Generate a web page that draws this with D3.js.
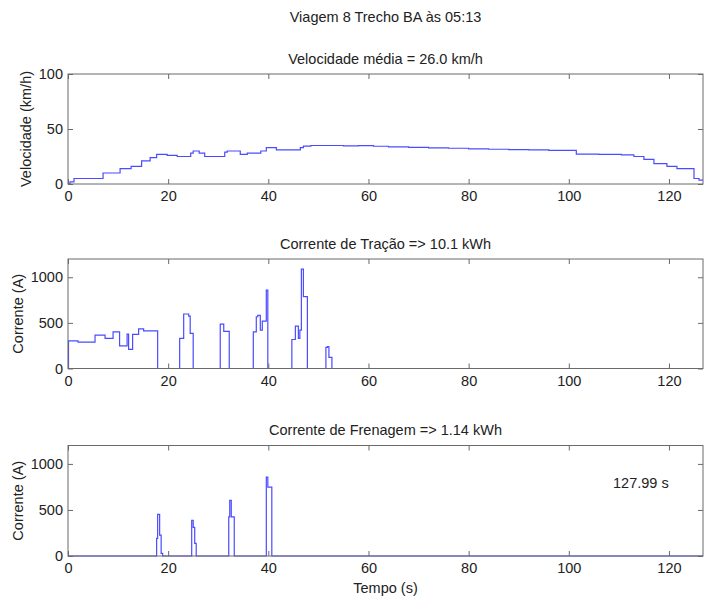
<!DOCTYPE html>
<html>
<head>
<meta charset="utf-8">
<script src="https://cdn.jsdelivr.net/npm/d3@7"></script>
<style>
  body { margin: 0; background: #fff; }
  text { font-family: "Liberation Sans", Arial, sans-serif; fill: #222; }
</style>
</head>
<body>
<div id="chart"></div>
<script>
// speed (km/h), step changes [time s, value]
var speedData = [
  [0,0],[0.4,2],[1.2,5],[7,10],[10.4,14],[12.6,16],[14.7,21],[16.4,24],[17.7,27],[19.8,26],
  [21.8,25],[24.5,28],[25,30],[26.2,28],[27.3,25],[31.3,29],[31.8,30],[34.4,27],[35.8,28],
  [38.5,30],[39.6,33],[41.6,31],[46.4,33],[47,34.5],[48.5,35],[55,34.7],[58,34.9],[61,34.3],
  [64,33.8],[68,33.3],[72,32.9],[76,32.5],[80,32],[84,31.6],[88,31.3],[92,31],[96,30.6],
  [101.5,27.2],[106,26.9],[110.5,26.4],[113,25],[115,22.4],[117,18.5],[119.6,16],[121.6,14],
  [125,5],[126,3.5],[126.8,3.5]
];

// traction current (A)
var tractionData = [
  [0,0],[0.1,303],[2,289],[5.4,366],[7.4,330],[9.0,402],[10.3,248],[11.8,377],[12.1,209],
  [12.9,373],[14.1,435],[15.1,413],[17.9,0],
  [22.3,330],[23.1,597],[24.1,575],[24.4,385],[25.0,0],
  [30.4,487],[31.1,407],[32.2,0],
  [37.0,402],[37.6,567],[37.9,582],[38.4,421],[38.8,520],[39.6,860],[39.9,0],
  [44.7,318],[45.4,465],[46.0,330],[46.3,421],[46.6,1088],[47.0,787],[47.8,0],
  [51.5,231],[51.8,240],[52.1,121],[52.7,0],[126.8,0]
];

// braking current (A)
var brakingData = [
  [0,0],[17.7,191],[17.9,453],[18.3,226],[18.6,29],[18.9,0],
  [24.7,388],[25.0,310],[25.3,137],[25.6,0],
  [32.1,424],[32.3,604],[32.6,424],[33.2,0],
  [39.6,856],[39.9,748],[40.7,0],[126.8,0]
];

var xTicks = [0, 20, 40, 60, 80, 100, 120];
var speedTicks = [0, 50, 100];
var currentTicks = [0, 500, 1000];

var mainTitle = "Viagem 8 Trecho BA às 05:13";
var panelTitles = ["Velocidade média = 26.0 km/h", "Corrente de Tração => 10.1 kWh", "Corrente de Frenagem => 1.14 kWh"];
var yLabels = ["Velocidade (km/h)", "Corrente (A)", "Corrente (A)"];

var width = 704, height = 596,
    left = 68, right = 703,
    fontSize = "14.5px",
    lineColor = "#4b4bff",
    axisColor = "#6a6a6a";

var svg = d3.select("#chart").append("svg")
    .attr("width", width)
    .attr("height", height);

var x = d3.scaleLinear().domain([0, 126.8]).range([left, right]);

var panels = [
  { top: 74, bottom: 184, ymax: 100, ticks: speedTicks, data: speedData, labelX: 26 },
  { top: 259, bottom: 368.5, ymax: 1200, ticks: currentTicks, data: tractionData, labelX: 18 },
  { top: 445.5, bottom: 556, ymax: 1200, ticks: currentTicks, data: brakingData, labelX: 18 }
];

svg.append("text")
    .attr("x", (left + right) / 2)
    .attr("y", 22)
    .attr("text-anchor", "middle")
    .style("font-size", fontSize)
    .text(mainTitle);

panels.forEach(function(p, i) {
  var y = d3.scaleLinear().domain([0, p.ymax]).range([p.bottom, p.top]);
  var g = svg.append("g");

  // data line
  var line = d3.line()
      .x(function(d) { return x(d[0]); })
      .y(function(d) { return y(d[1]); })
      .curve(d3.curveStepAfter);

  g.append("path")
      .datum(p.data)
      .attr("fill", "none")
      .attr("stroke", lineColor)
      .attr("stroke-width", 1.2)
      .attr("d", line);

  // inward ticks on all four sides
  g.append("g")
      .attr("transform", "translate(0," + p.bottom + ")")
      .call(d3.axisBottom(x).tickValues(xTicks).tickSize(-5).tickFormat(""));
  g.append("g")
      .attr("transform", "translate(0," + p.top + ")")
      .call(d3.axisTop(x).tickValues(xTicks).tickSize(-5).tickFormat(""));
  g.append("g")
      .attr("transform", "translate(" + left + ",0)")
      .call(d3.axisLeft(y).tickValues(p.ticks).tickSize(-5).tickFormat(""));
  g.append("g")
      .attr("transform", "translate(" + right + ",0)")
      .call(d3.axisRight(y).tickValues(p.ticks).tickSize(-5).tickFormat(""));

  // tick labels
  g.append("g")
      .attr("transform", "translate(0," + p.bottom + ")")
      .call(d3.axisBottom(x).tickValues(xTicks).tickSize(0).tickPadding(7).tickFormat(d3.format("d")));
  g.append("g")
      .attr("transform", "translate(" + left + ",0)")
      .call(d3.axisLeft(y).tickValues(p.ticks).tickSize(0).tickPadding(5).tickFormat(d3.format("d")));

  g.selectAll(".domain").remove();
  g.selectAll(".tick line").attr("stroke", axisColor);
  g.selectAll(".tick text")
      .style("font-size", fontSize)
      .attr("fill", "#222")
      .style("font-family", "'Liberation Sans', Arial, sans-serif");

  // box
  g.append("rect")
      .attr("x", left)
      .attr("y", p.top)
      .attr("width", right - left)
      .attr("height", p.bottom - p.top)
      .attr("fill", "none")
      .attr("stroke", axisColor)
      .attr("stroke-width", 1);

  g.append("text")
      .attr("x", (left + right) / 2)
      .attr("y", p.top - 10.5)
      .attr("text-anchor", "middle")
      .style("font-size", fontSize)
      .text(panelTitles[i]);

  g.append("text")
      .attr("transform", "translate(" + p.labelX + "," + ((p.top + p.bottom) / 2) + ") rotate(-90)")
      .attr("text-anchor", "middle")
      .attr("dy", "0.35em")
      .style("font-size", fontSize)
      .text(yLabels[i]);
});

svg.append("text")
    .attr("x", (left + right) / 2)
    .attr("y", 593)
    .attr("text-anchor", "middle")
    .style("font-size", fontSize)
    .text("Tempo (s)");

svg.append("text")
    .attr("x", 613)
    .attr("y", 488)
    .style("font-size", fontSize)
    .text("127.99 s");
</script>
</body>
</html>
